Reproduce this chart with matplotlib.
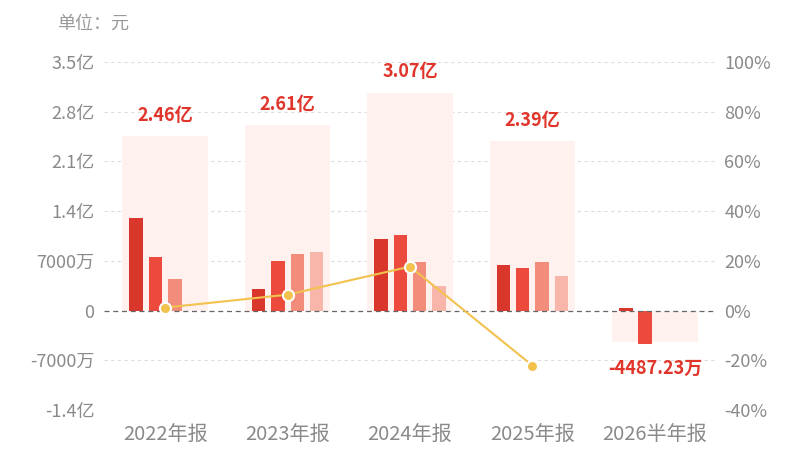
import numpy as np
import matplotlib
matplotlib.use("Agg")
import matplotlib.pyplot as plt

plt.rcParams['font.family'] = ['Noto Sans CJK SC', 'DejaVu Sans']

# values in 亿元
categories = ["2022年报", "2023年报", "2024年报", "2025年报", "2026半年报"]
totals = [2.46, 2.61, 3.07, 2.39, -0.448723]
total_labels = ["2.46亿", "2.61亿", "3.07亿", "2.39亿", "-4487.23万"]
q1 = [1.30, 0.31, 1.01, 0.64, 0.03]
q2 = [0.76, 0.70, 1.06, 0.60, -0.47]
q3 = [0.44, 0.80, 0.68, 0.69, np.nan]
q4 = [np.nan, 0.82, 0.35, 0.48, np.nan]
growth = [1.2, 6.4, 17.7, -22.1, np.nan]  # %

left_ticks = [-1.4, -0.7, 0, 0.7, 1.4, 2.1, 2.8, 3.5]
left_labels = ["-1.4亿", "-7000万", "0", "7000万", "1.4亿", "2.1亿", "2.8亿", "3.5亿"]
right_ticks = [-40, -20, 0, 20, 40, 60, 80, 100]
right_labels = ["-40%", "-20%", "0%", "20%", "40%", "60%", "80%", "100%"]

quarter_colors = ["#D9372B", "#EC4A3D", "#F28D7C", "#F8B6AA"]
label_red = "#E0352B"
tick_gray = "#8A8A8A"
yellow = "#F2C14E"

fig = plt.figure(figsize=(8, 4.5), dpi=100)
ax = fig.add_axes([0.13, 0.0889, 0.765, 0.7733])
x = np.arange(len(categories))

# background total bars
ax.bar(x, totals, width=0.7, color="#FEF1EE", zorder=1)

step = 0.158
for i, q in enumerate([q1, q2, q3, q4]):
    ax.bar(x + (i - 1.5) * step, q, width=0.11, color=quarter_colors[i], zorder=2)

for xi, t, lab in zip(x, totals, total_labels):
    off = 15 if t >= 0 else -19
    ax.annotate(lab, (xi, t), xytext=(0, off), textcoords="offset points",
                ha="center", va="center", fontsize=13, fontweight="bold",
                color=label_red)

ax.set_xlim(-0.5, 4.5)
ax.set_ylim(-1.4, 3.5)
ax.set_yticks(left_ticks)
ax.set_yticklabels(left_labels)
ax.set_xticks(x)
ax.set_xticklabels(categories)
ax.tick_params(axis="y", length=0, pad=7, labelsize=13, labelcolor=tick_gray)
ax.tick_params(axis="x", length=0, pad=11, labelsize=14.5, labelcolor=tick_gray)
for s in ax.spines.values():
    s.set_visible(False)
for t in left_ticks:
    if t == 0:
        ax.axhline(0, color="#666666", lw=0.9, ls=(0, (4, 3)), zorder=3)
    else:
        ax.axhline(t, color="#DDDDDD", lw=0.8, ls=(0, (3, 3)), zorder=0)

ax2 = ax.twinx()
ax2.set_ylim(-40, 100)
ax2.set_yticks(right_ticks)
ax2.set_yticklabels(right_labels)
ax2.tick_params(axis="y", length=0, pad=6, labelsize=13, labelcolor=tick_gray)
for s in ax2.spines.values():
    s.set_visible(False)
ax2.plot(x, growth, color=yellow, lw=1.5, marker="o", markersize=8,
         markerfacecolor=yellow, markeredgecolor="white", markeredgewidth=1.5,
         zorder=5)

fig.text(0.071, 0.947, "单位：元", fontsize=13, color="#999999",
         ha="left", va="center")

fig.savefig("out.png", dpi=100)
